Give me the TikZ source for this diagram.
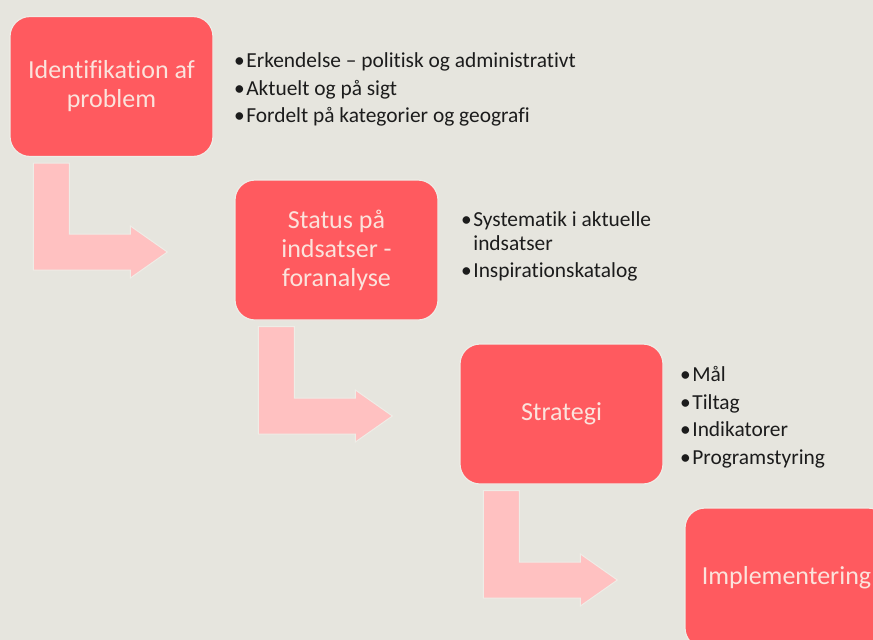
\documentclass[tikz,border=0pt]{standalone}
\usepackage{fontspec}
\setmainfont{Carlito}[Ligatures=NoCommon]
\usetikzlibrary{calc}

\definecolor{slidebg}{HTML}{E6E5DE}
\definecolor{boxred}{HTML}{FF5A5F}
\definecolor{boxtext}{HTML}{FBE3DC}
\definecolor{arrowpink}{HTML}{FFC1C1}
\definecolor{glow}{HTML}{EEEDE7}
\definecolor{listtext}{HTML}{1C1C1C}

\tikzset{
  stagebox/.style={rectangle, rounded corners=20pt, minimum width=203pt, minimum height=140pt,
    fill=boxred, draw=glow, line width=1.2pt, text=boxtext, align=center,
    font=\fontsize{26}{29}\selectfont},
  bulletlist/.style={anchor=west, align=left, inner sep=0pt, text=listtext,
    font=\fontsize{21.4}{27.5}\selectfont},
  bentarrow/.style={fill=arrowpink, draw=glow, line width=1pt}
}

% bent arrow from below one stage to the left of the next
\newcommand{\stagearrow}[2]{%
  \path[bentarrow] let \p1=(#1.south west), \p2=(#2.west) in
    (\x1+24pt,\y1-6pt) -- (\x1+60pt,\y1-6pt) -- (\x1+60pt,\y2+16pt)
    -- (\x2-104pt,\y2+16pt) -- (\x2-104pt,\y2+24pt) -- (\x2-67pt,\y2-2pt)
    -- (\x2-104pt,\y2-28pt) -- (\x2-104pt,\y2-20pt) -- (\x1+24pt,\y2-20pt) -- cycle;}

\newcommand{\bul}{•\kern1.5pt}

\begin{document}
\begin{tikzpicture}[x=1pt,y=-1pt]
\path[use as bounding box, fill=slidebg] (0,0) rectangle (873,640);

\node[stagebox] (ident) at (111.5,86.5) {Identifikation af\\problem};
\node[stagebox] (status) at (336.5,250) {Status på\\indsatser -\\foranalyse};
\node[stagebox] (strategi) at (561.5,414) {Strategi};
\node[stagebox] (impl) at (786.5,578) {Implementering};

\stagearrow{ident}{status}
\stagearrow{status}{strategi}
\stagearrow{strategi}{impl}

\node[bulletlist] (identlist) at (234,89.5) {\bul Erkendelse – politisk og administrativt\\
  \bul Aktuelt og på sigt\\
  \bul Fordelt på kategorier og geografi};
\node[bulletlist, font=\fontsize{21.4}{24}\selectfont] (statuslist) at (461,246.5) {\bul Systematik i aktuelle\\
  \phantom{\bul}indsatser\\[3.5pt]
  \bul Inspirationskatalog};
\node[bulletlist] (strategilist) at (680,417.5) {\bul Mål\\
  \bul Tiltag\\
  \bul Indikatorer\\
  \bul Programstyring};
\end{tikzpicture}
\end{document}
